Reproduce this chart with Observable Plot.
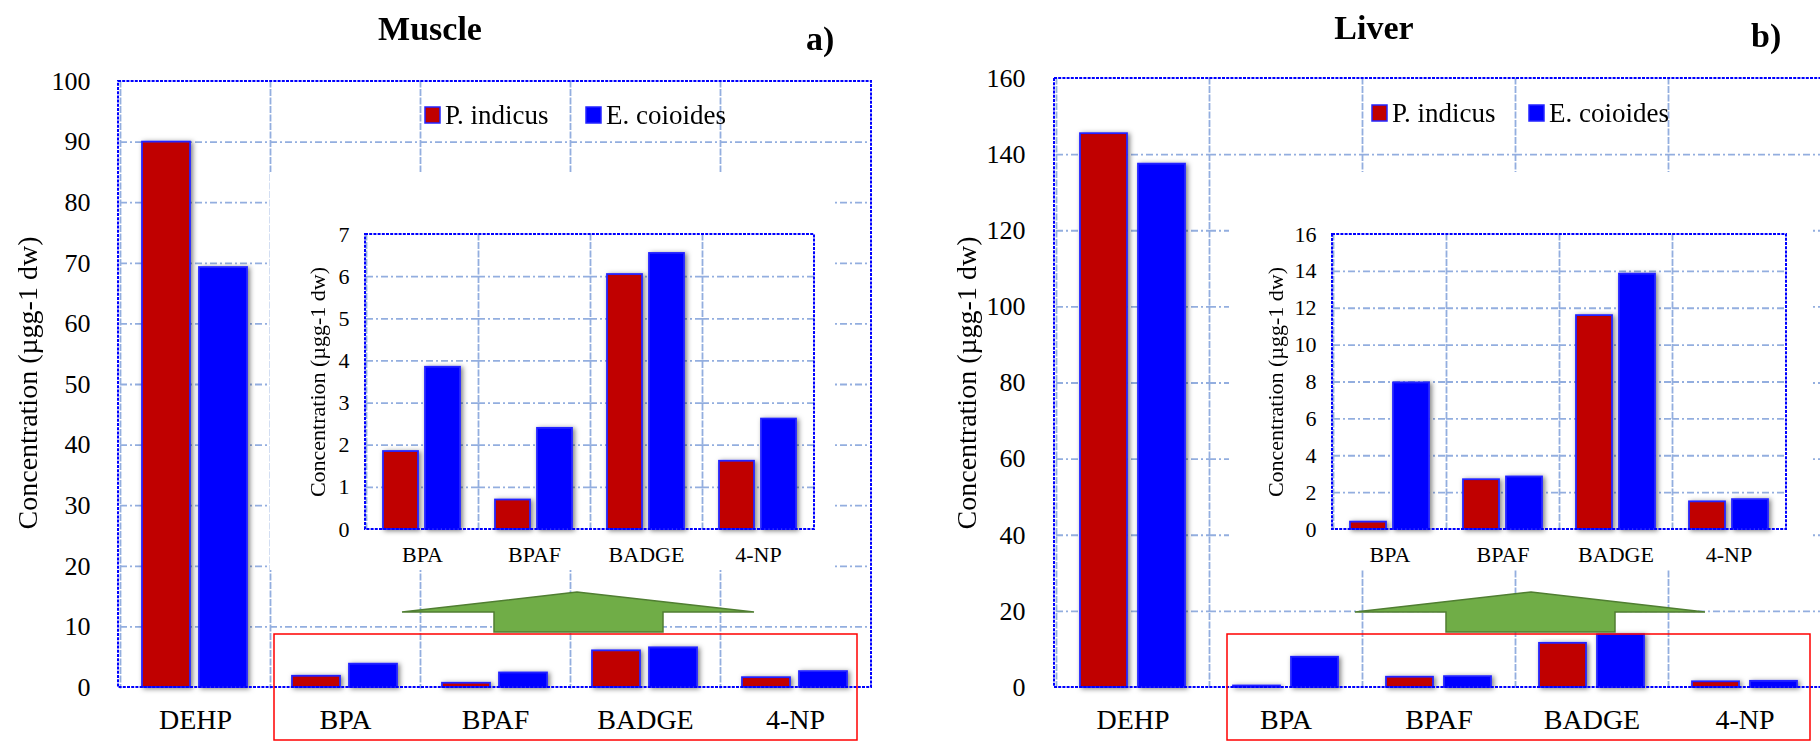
<!DOCTYPE html>
<html><head><meta charset="utf-8">
<script src="https://cdn.jsdelivr.net/npm/d3@7"></script>
<script src="https://cdn.jsdelivr.net/npm/@observablehq/plot@0.6"></script>
<style>
html,body{margin:0;padding:0;background:#fff;overflow:hidden;}
#root{position:relative;width:1820px;height:742px;overflow:hidden;background:#fff;}
#root > svg{position:absolute;}
#root svg, #root svg text{font-family:'Liberation Serif','Times New Roman',Times,serif !important;}
</style></head><body><div id="root"></div>
<script>
// ---------- data ----------
const categories = ["DEHP", "BPA", "BPAF", "BADGE", "4-NP"];
const insetCategories = ["BPA", "BPAF", "BADGE", "4-NP"];
const species = ["P. indicus", "E. coioides"];
const muscleIndicus  = [90.0, 1.85, 0.70, 6.05, 1.62];
const muscleCoioides = [69.3, 3.85, 2.40, 6.55, 2.62];
const liverIndicus   = [145.5, 0.40, 2.70, 11.60, 1.50];
const liverCoioides  = [137.5, 7.95, 2.85, 13.85, 1.62];
const muscleTicks = [0, 10, 20, 30, 40, 50, 60, 70, 80, 90, 100];
const muscleInsetTicks = [0, 1, 2, 3, 4, 5, 6, 7];
const liverTicks = [0, 20, 40, 60, 80, 100, 120, 140, 160];
const liverInsetTicks = [0, 2, 4, 6, 8, 10, 12, 14, 16];
const panelTitles = ["Muscle", "Liver"];
const panelLetters = ["a)", "b)"];
const yLabel = "Concentration (µgg-1 dw)";

// ---------- style ----------
const FONT = "'Liberation Serif','Times New Roman',Times,serif";
const RED = "#C00000", BLUE = "#0000FF", EDGE = "#2424ff", GRID = "#93AEDF", FRAME = "#0000FF";
const VDASH = "5,3.5", HDASH = "7,3,2,3";

function toRows(cats, a, b, keep) {
  const out = [];
  cats.forEach((c, i) => {
    if (keep && !keep.includes(c)) return;
    out.push({cat: c, sp: species[0], v: a[i]});
    out.push({cat: c, sp: species[1], v: b[i]});
  });
  return out;
}

function chart(o) {
  const plot = Plot.plot({
    width: o.width, height: o.height,
    marginTop: o.m[0], marginRight: o.m[1], marginBottom: o.m[2], marginLeft: o.m[3],
    style: {fontFamily: FONT, background: o.bg || "transparent", color: "#000", overflow: "visible"},
    fx: {domain: o.cats, padding: 0, label: null},
    x: {domain: species, paddingInner: o.pad[0], paddingOuter: o.pad[1], axis: null},
    y: {domain: [o.ticks[0], o.ticks[o.ticks.length - 1]], label: null},
    color: {domain: species, range: [RED, BLUE]},
    marks: [
      Plot.ruleY(o.ticks.slice(1, -1), {stroke: GRID, strokeWidth: 1.8, strokeDasharray: HDASH}),
      Plot.frame({anchor: "left", stroke: GRID, strokeWidth: 1.8, strokeDasharray: VDASH}),
      Plot.barY(o.data, {fx: "cat", x: "sp", y: "v", fill: "sp", stroke: EDGE, strokeWidth: 1.8}),
      Plot.axisY(o.ticks, {fontSize: o.tickFont, fontFamily: FONT, tickSize: 0, tickPadding: o.tickPad, label: null}),
      Plot.axisFx({fontSize: o.catFont, fontFamily: FONT, tickSize: 0, tickPadding: o.catPad, label: null, anchor: "bottom"})
    ]
  });
  const svg = d3.select(plot);
  const fx = plot.scale("fx"), yr = plot.scale("y").range;
  const fxr = fx.range;
  // fallback if this Plot build ignores frame anchor: draw the facet boundary lines from the fx scale
  const frameRects = plot.querySelectorAll('g[aria-label="frame"] rect');
  if (frameRects.length) {
    svg.selectAll('g[aria-label="frame"]').remove();
    const g = svg.insert("g", 'g[aria-label="bar"]');
    const step = (fxr[1] - fxr[0]) / o.cats.length;
    o.cats.slice(1).forEach((c, i) => {
      const x = fxr[0] + step * (i + 1);
      g.append("line").attr("x1", x).attr("x2", x).attr("y1", Math.min(...yr)).attr("y2", Math.max(...yr))
        .attr("stroke", GRID).attr("stroke-width", 1.8).attr("stroke-dasharray", VDASH);
    });
  }
  const id = "sh" + Math.random().toString(36).slice(2, 8);
  svg.append("defs").append("filter").attr("id", id)
    .attr("x", "-30%").attr("y", "-20%").attr("width", "160%").attr("height", "140%")
    .append("feDropShadow").attr("dx", 2).attr("dy", 1).attr("stdDeviation", 2.5)
    .attr("flood-color", "#000").attr("flood-opacity", 0.5);
  svg.selectAll('g[aria-label="bar"]').attr("filter", `url(#${id})`);
  // outer dotted frame
  svg.append("rect")
    .attr("x", Math.min(...fxr)).attr("y", Math.min(...yr))
    .attr("width", Math.abs(fxr[1] - fxr[0])).attr("height", Math.abs(yr[1] - yr[0]))
    .attr("fill", "none").attr("stroke", FRAME).attr("stroke-width", 2).attr("stroke-dasharray", "3,1.2");
  plot.style.left = o.left + "px";
  plot.style.top = o.top + "px";
  return plot;
}

const root = document.getElementById("root");

root.appendChild(chart({
  left: 0, top: 0, width: 910, height: 742, m: [81, 39, 55, 118],
  cats: categories, data: toRows(categories, muscleIndicus, muscleCoioides),
  ticks: muscleTicks, pad: [0.155, 0.376], tickFont: 26, tickPad: 30, catFont: 28, catPad: 22
}));
root.appendChild(chart({
  left: 910, top: 0, width: 914, height: 742, m: [78, 2, 55, 144],
  cats: categories, data: toRows(categories, liverIndicus, liverCoioides),
  ticks: liverTicks, pad: [0.186, 0.395], tickFont: 26, tickPad: 31, catFont: 28, catPad: 22
}));
root.appendChild(chart({
  left: 270, top: 172, width: 565, height: 398, m: [62, 21, 41, 95], bg: "#fff",
  cats: insetCategories, data: toRows(categories, muscleIndicus, muscleCoioides, insetCategories),
  ticks: muscleInsetTicks, pad: [0.165, 0.39], tickFont: 22, tickPad: 17, catFont: 22, catPad: 17
}));
root.appendChild(chart({
  left: 1229, top: 172, width: 583, height: 398, m: [62, 26, 41, 103], bg: "#fff",
  cats: insetCategories, data: toRows(categories, liverIndicus, liverCoioides, insetCategories),
  ticks: liverInsetTicks, pad: [0.165, 0.39], tickFont: 22, tickPad: 17, catFont: 22, catPad: 17
}));

// ---------- annotations overlay ----------
const ov = d3.create("svg").attr("width", 1820).attr("height", 742)
  .style("left", "0px").style("top", "0px").style("font-family", FONT);

const panels = [
  {title: [430, 40], letter: [806, 50], legend: [425, 586], legendY: 107, ylab: [27, 383], iylab: [317, 382],
   arrow: "M402,612 L577,592 L754,612 L663,612 L663,632 L494,632 L494,612 Z", box: [274, 634, 583, 106]},
  {title: [1374, 39], letter: [1751, 47], legend: [1372, 1529], legendY: 105, ylab: [966, 383], iylab: [1275, 382],
   arrow: "M1355,612 L1531,592 L1705,612 L1615,612 L1615,632 L1446,632 L1446,612 Z", box: [1227, 634, 583, 106]}
];
panels.forEach((p, i) => {
  ov.append("text").attr("x", p.title[0]).attr("y", p.title[1]).attr("text-anchor", "middle")
    .attr("font-size", 34).attr("font-weight", "bold").text(panelTitles[i]);
  ov.append("text").attr("x", p.letter[0]).attr("y", p.letter[1])
    .attr("font-size", 34).attr("font-weight", "bold").text(panelLetters[i]);
  species.forEach((s, j) => {
    ov.append("rect").attr("x", p.legend[j]).attr("y", p.legendY).attr("width", 15).attr("height", 16)
      .attr("fill", j === 0 ? RED : BLUE).attr("stroke", EDGE).attr("stroke-width", 1.5);
    ov.append("text").attr("x", p.legend[j] + 20).attr("y", p.legendY + 17)
      .attr("font-size", 27).text(s);
  });
  ov.append("text").attr("transform", `translate(${p.ylab[0]},${p.ylab[1]}) rotate(-90)`)
    .attr("text-anchor", "middle").attr("dominant-baseline", "central")
    .attr("font-size", 28).text(yLabel);
  ov.append("text").attr("transform", `translate(${p.iylab[0]},${p.iylab[1]}) rotate(-90)`)
    .attr("text-anchor", "middle").attr("dominant-baseline", "central")
    .attr("font-size", 22).text(yLabel);
  ov.append("path").attr("d", p.arrow).attr("fill", "#70AD47").attr("stroke", "#507E32").attr("stroke-width", 1.5);
  ov.append("rect").attr("x", p.box[0]).attr("y", p.box[1]).attr("width", p.box[2]).attr("height", p.box[3])
    .attr("fill", "none").attr("stroke", "#FF0000").attr("stroke-width", 1.5);
});
root.appendChild(ov.node());
</script></body></html>
